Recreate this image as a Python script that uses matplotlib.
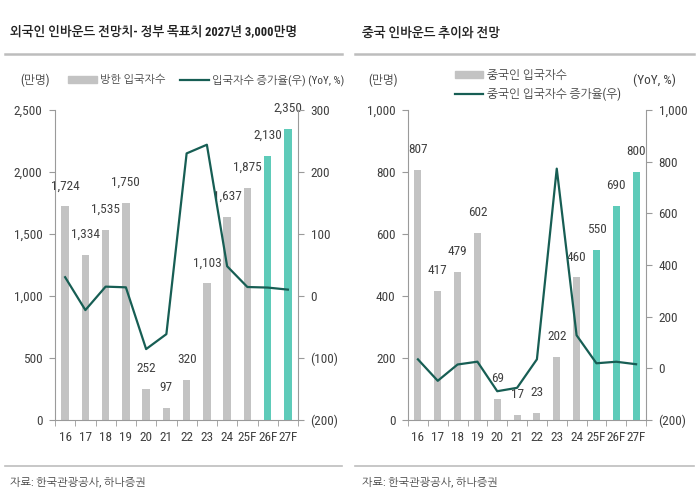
import matplotlib
matplotlib.use("Agg")
import matplotlib.pyplot as plt
from matplotlib.lines import Line2D
from matplotlib.patches import Patch
from matplotlib.ticker import FuncFormatter

FONT = ['Roboto Condensed', 'NanumGothic', 'Noto Sans CJK JP', 'DejaVu Sans']
plt.rcParams['font.family'] = FONT

# ---------------- data ----------------
years = ['16', '17', '18', '19', '20', '21', '22', '23', '24', '25F', '26F', '27F']

inbound_total = [1724, 1334, 1535, 1750, 252, 97, 320, 1103, 1637, 1875, 2130, 2350]
inbound_total_yoy = [30.3, -22.7, 15.1, 14.0, -85.6, -61.5, 230.0, 244.0, 48.0, 14.5, 13.6, 10.3]
total_forecast = [False] * 10 + [True] * 2

inbound_china = [807, 417, 479, 602, 69, 17, 23, 202, 460, 550, 690, 800]
inbound_china_yoy = [34.8, -48.3, 14.9, 25.7, -88.6, -75.4, 35.0, 773.0, 128.0, 19.6, 25.5, 15.9]
china_forecast = [False] * 9 + [True] * 3

GREY = '#c3c3c3'
TEAL = '#5ecbb9'
LINE = '#175e54'
TXT = '#404040'
SPINE = '#9a9a9a'
FS = 9.5

W, H = 700, 500
fig = plt.figure(figsize=(7, 5), dpi=100)


def fx(px):
    return px / W


def fy(py):
    return 1 - py / H


def paren(v, pos):
    v = int(round(v))
    if v < 0:
        return f'({abs(v):,})'
    return f'{v:,}'


def make_chart(x0, x1, vals, yoy, fc, ylim, ystep, y2lim, y2step):
    ax = fig.add_axes([fx(x0), fy(420), fx(x1 - x0), (420 - 110) / H])
    xs = list(range(len(years)))
    colors = [TEAL if f else GREY for f in fc]
    bars = ax.bar(xs, vals, width=0.36, color=colors, zorder=2)
    for x, v in zip(xs, vals):
        ax.annotate(f'{v:,}', (x, v), xytext=(0, 10), textcoords='offset points',
                    ha='center', va='bottom', fontsize=FS, color=TXT,
                    annotation_clip=False)
    ax.set_xlim(-0.5, len(years) - 0.5)
    ax.set_ylim(*ylim)
    ax.set_yticks(range(ylim[0], ylim[1] + 1, ystep))
    ax.yaxis.set_major_formatter(FuncFormatter(paren))
    ax.set_xticks(xs)
    ax.set_xticklabels(years)
    ax.set_xticks([x - 0.5 for x in range(len(years) + 1)], minor=True)
    ax.tick_params(axis='x', which='major', length=0, pad=8, labelsize=FS, colors=TXT)
    ax.tick_params(axis='x', which='minor', length=4, direction='out', color=SPINE)
    ax.tick_params(axis='y', length=4, direction='out', color=SPINE, labelsize=FS,
                   labelcolor=TXT, pad=5)
    for s in ['top', 'right']:
        ax.spines[s].set_visible(False)
    for s in ['left', 'bottom']:
        ax.spines[s].set_color(SPINE)
        ax.spines[s].set_linewidth(0.8)

    ax2 = ax.twinx()
    ln, = ax2.plot(xs, yoy, color=LINE, lw=1.6, zorder=3)
    ax2.set_ylim(*y2lim)
    ax2.set_yticks(range(y2lim[0], y2lim[1] + 1, y2step))
    ax2.yaxis.set_major_formatter(FuncFormatter(paren))
    ax2.tick_params(axis='y', length=4, direction='out', color=SPINE, labelsize=FS,
                    labelcolor=TXT, pad=5)
    for s in ['top', 'left', 'bottom']:
        ax2.spines[s].set_visible(False)
    ax2.spines['right'].set_color(SPINE)
    ax2.spines['right'].set_linewidth(0.8)
    return ax, ax2, bars, ln


# ---------------- left chart ----------------
axL, axL2, barsL, lnL = make_chart(55, 298, inbound_total, inbound_total_yoy,
                                   total_forecast, (0, 2500), 500, (-200, 300), 100)
# ---------------- right chart ----------------
axR, axR2, barsR, lnR = make_chart(408, 646, inbound_china, inbound_china_yoy,
                                   china_forecast, (0, 1000), 200, (-200, 1000), 200)

# titles and rules
fig.text(fx(10), fy(33), '외국인 인바운드 전망치- 정부 목표치 2027년 3,000만명',
         fontsize=9, fontweight='bold', color='#222222', va='center', ha='left')
fig.text(fx(362), fy(33), '중국 인바운드 추이와 전망',
         fontsize=9, fontweight='bold', color='#222222', va='center', ha='left')
for (a, b) in [(5, 342), (355, 694)]:
    fig.add_artist(Line2D([fx(a), fx(b)], [fy(54), fy(54)], color='#bdbdbd', lw=1.8))
    fig.add_artist(Line2D([fx(a), fx(b)], [fy(466), fy(466)], color='#bdbdbd', lw=1.2))
fig.text(fx(10), fy(483), '자료: 한국관광공사, 하나증권', fontsize=8, color=TXT,
         va='center', ha='left')
fig.text(fx(362), fy(483), '자료: 한국관광공사, 하나증권', fontsize=8, color=TXT,
         va='center', ha='left')

# unit labels
fig.text(fx(35), fy(80), '(만명)', fontsize=8.5, color=TXT, va='center', ha='center')
fig.text(fx(383), fy(80), '(만명)', fontsize=8.5, color=TXT, va='center', ha='center')
fig.text(fx(676), fy(80), '(YoY, %)', fontsize=FS, color=TXT, va='center', ha='right')

# legends
hL = [Patch(color=GREY), Line2D([], [], color=LINE, lw=1.6)]
fig.legend(hL, ['방한 입국자수', '입국자수 증가율(우) (YoY, %)'], ncol=2,
           loc='center left', bbox_to_anchor=(fx(68), fy(80)), frameon=False,
           fontsize=8, handlelength=2.6, handleheight=0.6, handletextpad=0.3,
           columnspacing=1.3, borderaxespad=0, borderpad=0, labelcolor=TXT)
hR = [Patch(color=GREY), Line2D([], [], color=LINE, lw=1.6)]
fig.legend(hR, ['중국인 입국자수', '중국인 입국자수 증가율(우)'], ncol=1,
           loc='center left', bbox_to_anchor=(fx(455), fy(85)), frameon=False,
           fontsize=8.5, handlelength=2.4, handleheight=0.6, handletextpad=0.3,
           labelspacing=0.5, borderaxespad=0, borderpad=0, labelcolor=TXT)

fig.savefig('out.png', dpi=100, facecolor='white')
